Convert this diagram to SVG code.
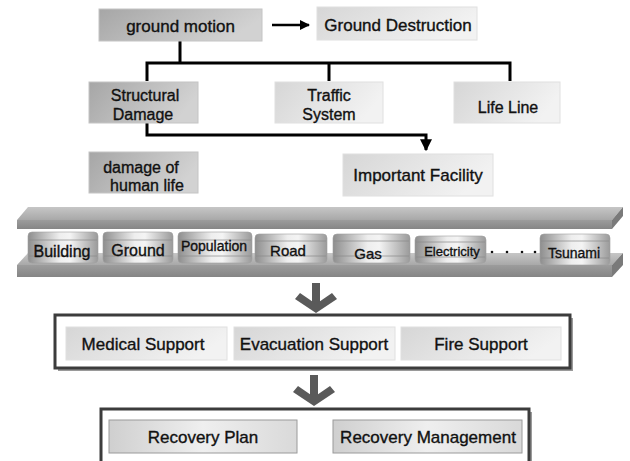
<svg xmlns="http://www.w3.org/2000/svg" width="630" height="461" viewBox="0 0 630 461">
<defs>
<linearGradient id="gDark" x1="0" y1="0" x2="1" y2="0.3">
<stop offset="0" stop-color="#a6a6a6"/><stop offset="1" stop-color="#d2d2d2"/>
</linearGradient>
<linearGradient id="gLight" x1="0" y1="0" x2="1" y2="0.3">
<stop offset="0" stop-color="#d6d6d6"/><stop offset="1" stop-color="#f2f2f2"/>
</linearGradient>
<linearGradient id="gMid" x1="0" y1="0" x2="1" y2="0">
<stop offset="0" stop-color="#cfcfcf"/><stop offset="0.5" stop-color="#efefef"/><stop offset="1" stop-color="#d9d9d9"/>
</linearGradient>
<linearGradient id="gDrum" x1="0" y1="0" x2="1" y2="0">
<stop offset="0" stop-color="#8e8e8e"/><stop offset="0.45" stop-color="#eeeeee"/><stop offset="0.6" stop-color="#f4f4f4"/><stop offset="1" stop-color="#9a9a9a"/>
</linearGradient>
<linearGradient id="gSlabTop" x1="0" y1="0" x2="0" y2="1">
<stop offset="0" stop-color="#c6c6c6"/><stop offset="1" stop-color="#a8a8a8"/>
</linearGradient>
<linearGradient id="gSlabFront" x1="0" y1="0" x2="0" y2="1">
<stop offset="0" stop-color="#9c9c9c"/><stop offset="1" stop-color="#858585"/>
</linearGradient>
<marker id="ah" viewBox="0 0 10 10" refX="9" refY="5" markerWidth="4" markerHeight="4" orient="auto" markerUnits="strokeWidth">
<path d="M0,0 L10,5 L0,10 z" fill="#000"/>
</marker>
</defs>
<style>
text{font-family:"Liberation Sans","DejaVu Sans",sans-serif;fill:#111;stroke:#111;stroke-width:0.35;text-anchor:middle}
.t17{font-size:17px}
.t16{font-size:16px}
.t15{font-size:15px}
.t14{font-size:14px}
.t13{font-size:13px}
.dark{fill:url(#gDark);stroke:#c4c4c4;stroke-width:1}
.light{fill:url(#gLight);stroke:#e0e0e0;stroke-width:1}
.mid{fill:url(#gMid);stroke:#9a9a9a;stroke-width:1}
.drum{fill:url(#gDrum);stroke:#a0a0a0;stroke-width:0.6}
.band{stroke:#8a8a8a;stroke-width:1;fill:none;opacity:0.7}
.conn{stroke:#000;stroke-width:3;fill:none}
.big{fill:#5a5a5a}
.frame{fill:#fff;stroke:#3c3c3c;stroke-width:3}
.shadow{fill:#9a9a9a}
</style>

<g id="connectors">
<line x1="272" y1="25" x2="309" y2="25" stroke="#000" stroke-width="2.5" marker-end="url(#ah)"/>
<path class="conn" d="M180,41 V63 M147,81 V63 H510 V81 M329,63 V81"/>
<path class="conn" stroke-width="2.5" d="M147,123 V135 H426 V150" marker-end="url(#ah)"/>
<g id="arrow1">
<rect class="big" x="312" y="283" width="8" height="22"/>
<polygon class="big" points="295,299 300,293 316,304 332,293 337,299 316,313"/>
</g>
<g id="arrow2">
<rect class="big" x="310" y="375" width="8" height="22"/>
<polygon class="big" points="293,392 298,386 314,397 330,386 335,392 314,406"/>
</g>
</g>

<g id="ground-motion">
<rect class="dark" x="99" y="9" width="163" height="32"/>
<text class="t17" x="180.5" y="32">ground motion</text>
</g>
<g id="ground-destruction">
<rect class="light" x="317" y="7" width="160" height="33"/>
<text class="t17" x="398" y="31">Ground Destruction</text>
</g>
<g id="structural-damage">
<rect class="dark" x="89" y="82" width="109" height="41"/>
<text class="t16" x="145" y="101">Structural</text>
<text class="t16" x="143" y="120">Damage</text>
</g>
<g id="traffic-system">
<rect class="light" x="275" y="82" width="108" height="41"/>
<text class="t16" x="329" y="101">Traffic</text>
<text class="t16" x="329" y="120">System</text>
</g>
<g id="life-line">
<rect class="light" x="454" y="82" width="106" height="41"/>
<text class="t16" x="508" y="113">Life Line</text>
</g>
<g id="damage-human-life">
<rect class="dark" x="89" y="152" width="109" height="41"/>
<text class="t16" x="141" y="173">damage of</text>
<text class="t16" x="147" y="191">human life</text>
</g>
<g id="important-facility">
<rect class="light" x="343" y="154" width="150" height="42"/>
<text class="t17" x="418" y="181">Important Facility</text>
</g>

<g id="hazard-bar">
<polygon fill="url(#gSlabTop)" points="17,220 28,207 623,207 612,220"/>
<rect fill="url(#gSlabFront)" x="17" y="220" width="595" height="9"/>
<polygon fill="#7a7a7a" points="612,220 623,207 623,216 612,229"/>
<polygon fill="url(#gSlabTop)" points="17,265 28,253 623,253 612,265"/>
<rect fill="url(#gSlabFront)" x="17" y="265" width="595" height="12"/>
<polygon fill="#7a7a7a" points="612,265 623,253 623,265 612,277"/>
</g>

<g id="building">
<rect class="drum" x="28" y="232" width="70" height="31" rx="4"/>
<path class="band" d="M29,240 H97 M29,256 H97"/>
<text class="t16" x="62" y="257">Building</text>
</g>
<g id="ground">
<rect class="drum" x="103" y="232" width="70" height="31" rx="4"/>
<path class="band" d="M104,240 H172 M104,256 H172"/>
<text class="t16" x="138" y="256">Ground</text>
</g>
<g id="population">
<rect class="drum" x="178" y="232" width="74" height="31" rx="4"/>
<path class="band" d="M179,240 H251 M179,256 H251"/>
<text class="t14" x="214" y="251">Population</text>
</g>
<g id="road">
<rect class="drum" x="255" y="234" width="72" height="29" rx="4"/>
<path class="band" d="M256,241 H326 M256,256 H326"/>
<text class="t15" x="288" y="256">Road</text>
</g>
<g id="gas">
<rect class="drum" x="333" y="234" width="77" height="29" rx="4"/>
<path class="band" d="M334,241 H409 M334,256 H409"/>
<text class="t15" x="368" y="259">Gas</text>
</g>
<g id="electricity">
<rect class="drum" x="415" y="236" width="71" height="27" rx="4"/>
<path class="band" d="M416,242 H485 M416,257 H485"/>
<text class="t13" x="452" y="256">Electricity</text>
</g>
<g id="dots">
<circle cx="492" cy="252" r="1.3" fill="#111"/>
<circle cx="507" cy="252" r="1.3" fill="#111"/>
<circle cx="522" cy="252" r="1.3" fill="#111"/>
<circle cx="535" cy="252" r="1.3" fill="#111"/>
</g>
<g id="tsunami">
<rect class="drum" x="540" y="234" width="70" height="31" rx="4"/>
<path class="band" d="M541,241 H609 M541,258 H609"/>
<text class="t14" x="574" y="258">Tsunami</text>
</g>

<g id="support-panel">
<rect class="shadow" x="58" y="318" width="515" height="53"/>
<rect class="frame" x="55" y="315" width="515" height="53"/>
</g>
<g id="medical-support">
<rect class="light" x="66" y="327" width="161" height="33"/>
<text class="t17" x="143" y="350">Medical Support</text>
</g>
<g id="evacuation-support">
<rect class="light" x="234" y="327" width="161" height="33"/>
<text class="t17" x="314" y="350">Evacuation Support</text>
</g>
<g id="fire-support">
<rect class="light" x="401" y="327" width="160" height="33"/>
<text class="t17" x="481" y="350">Fire Support</text>
</g>

<g id="recovery-panel">
<rect class="shadow" x="104" y="412" width="428" height="60"/>
<rect class="frame" x="101" y="409" width="428" height="60"/>
</g>
<g id="recovery-plan">
<rect class="mid" x="109" y="420" width="188" height="33"/>
<text class="t17" x="203" y="443">Recovery Plan</text>
</g>
<g id="recovery-management">
<rect class="mid" x="333" y="420" width="189" height="33"/>
<text class="t17" x="428" y="443">Recovery Management</text>
</g>
</svg>
